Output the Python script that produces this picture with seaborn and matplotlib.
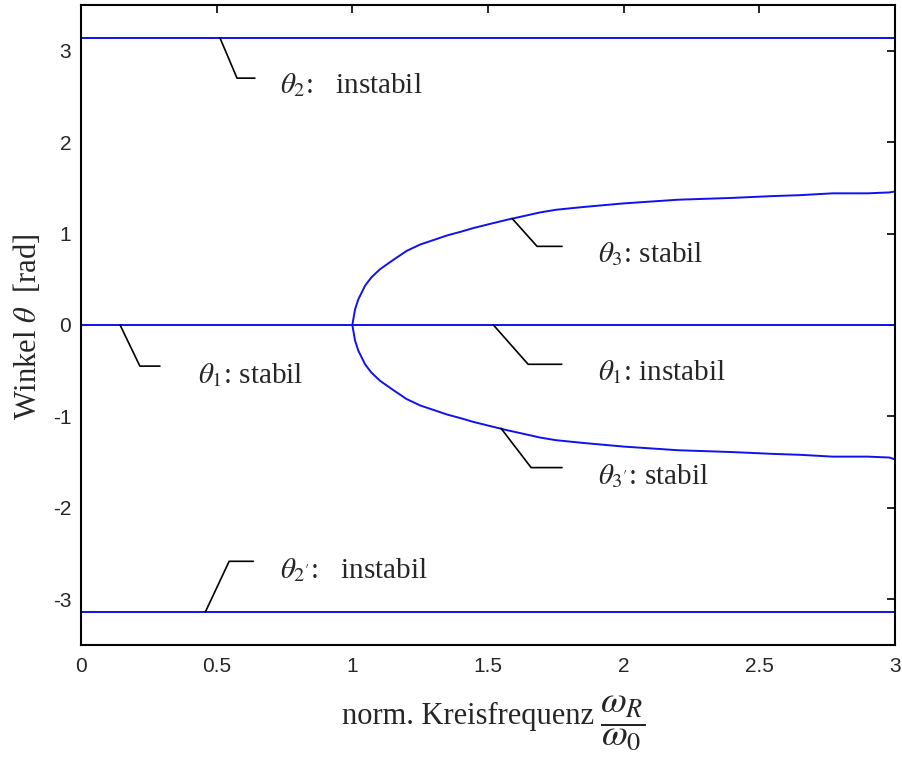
import matplotlib
matplotlib.use('Agg')
import matplotlib.pyplot as plt
import seaborn as sns
import numpy as np

# Werte
omega_gesamt = [0.0, 3.0]
theta_1 = [0.0, 0.0]
theta_2 = [3.1416, 3.1416]
theta_2s = [-3.1416, -3.1416]

omega_ast = [1.0, 1.01, 1.022, 1.047, 1.07, 1.102, 1.15, 1.20, 1.25, 1.30, 1.35, 1.40,
             1.446, 1.50, 1.569, 1.63, 1.69, 1.75, 1.85, 2.0, 2.1, 2.2, 2.3, 2.40,
             2.55, 2.65, 2.77, 2.9, 2.98, 3.0]
theta_3 = [0.0, 0.17, 0.28, 0.43, 0.52, 0.61, 0.71, 0.81, 0.88, 0.93, 0.98, 1.02,
           1.06, 1.10, 1.15, 1.19, 1.23, 1.26, 1.29, 1.33, 1.35, 1.37, 1.38, 1.39,
           1.41, 1.42, 1.44, 1.44, 1.45, 1.46]
theta_3s = [0.0, -0.17, -0.28, -0.43, -0.52, -0.61, -0.71, -0.81, -0.88, -0.93, -0.98, -1.02,
            -1.06, -1.10, -1.15, -1.19, -1.23, -1.26, -1.29, -1.33, -1.35, -1.37, -1.38, -1.39,
            -1.41, -1.42, -1.44, -1.44, -1.45, -1.47]

# Beschriftungen: Text, Ankerpunkt, Knick, Ende, Textposition
labels = [
    (r"$\theta_2$:   instabil", (0.512, 3.1416), (0.575, 2.70), (0.641, 2.70), (0.733, 2.62)),
    (r"$\theta_1$: stabil", (0.144, 0.0), (0.217, -0.45), (0.291, -0.45), (0.43, -0.55)),
    (r"$\theta_1$: instabil", (1.52, 0.0), (1.648, -0.43), (1.772, -0.43), (1.905, -0.52)),
    (r"$\theta_3$: stabil", (1.589, 1.165), (1.681, 0.86), (1.773, 0.86), (1.905, 0.77)),
    (r"$\theta_{3'}$: stabil", (1.548, -1.13), (1.659, -1.56), (1.773, -1.56), (1.905, -1.65)),
    (r"$\theta_{2'}$:   instabil", (0.458, -3.1416), (0.546, -2.585), (0.635, -2.585), (0.733, -2.68)),
]

sns.set_style('white')
plt.rcParams['mathtext.fontset'] = 'stix'
plt.rcParams['font.family'] = ['Liberation Serif', 'DejaVu Serif']

fig = plt.figure(figsize=(9.02, 7.57), dpi=100)
ax = fig.add_axes([0.0898, 0.148, 0.9024, 0.8454])

blau = '#1010f0'
for y in (theta_1, theta_2, theta_2s):
    sns.lineplot(x=omega_gesamt, y=y, ax=ax, color=blau, linewidth=1.4)
sns.lineplot(x=omega_ast, y=theta_3, ax=ax, color=blau, linewidth=1.4, sort=False)
sns.lineplot(x=omega_ast, y=theta_3s, ax=ax, color=blau, linewidth=1.4, sort=False)

for text, p0, p1, p2, pt in labels:
    ax.plot([p0[0], p1[0], p2[0]], [p0[1], p1[1], p2[1]], color='black', linewidth=1.2)
    ax.text(pt[0], pt[1], text, fontsize=21, ha='left', va='center')

ax.set_xlim(0, 3)
ax.set_ylim(-3.5, 3.5)
ax.set_xticks([0, 0.5, 1, 1.5, 2, 2.5, 3])
ax.set_xticklabels(['0', '0.5', '1', '1.5', '2', '2.5', '3'])
ax.set_yticks([-3, -2, -1, 0, 1, 2, 3])
ax.set_yticklabels(['-3', '-2', '-1', '0', '1', '2', '3'])
for lab in ax.get_xticklabels() + ax.get_yticklabels():
    lab.set_family('Liberation Sans')
    lab.set_fontsize(15)
ax.tick_params(axis='x', pad=9)
ax.tick_params(axis='y', pad=7)
ax.tick_params(direction='in', length=6, width=1.2, top=True, right=True, color='black')
for sp in ax.spines.values():
    sp.set_color('black')
    sp.set_linewidth(1.5)

# Achsenbeschriftungen
ax.set_xlabel("norm. Kreisfrequenz", fontsize=22, va='center')
ax.xaxis.set_label_coords(0.476, -0.112)
fig.text(0.69, 0.045, r"$\dfrac{\omega_R}{\omega_0}$", fontsize=27, ha='center', va='center')

ax.set_ylabel(r"Winkel $\theta$  [rad]", fontsize=22, va='center')
ax.yaxis.set_label_coords(-0.066, 0.497)

fig.savefig('out.png', dpi=100)
